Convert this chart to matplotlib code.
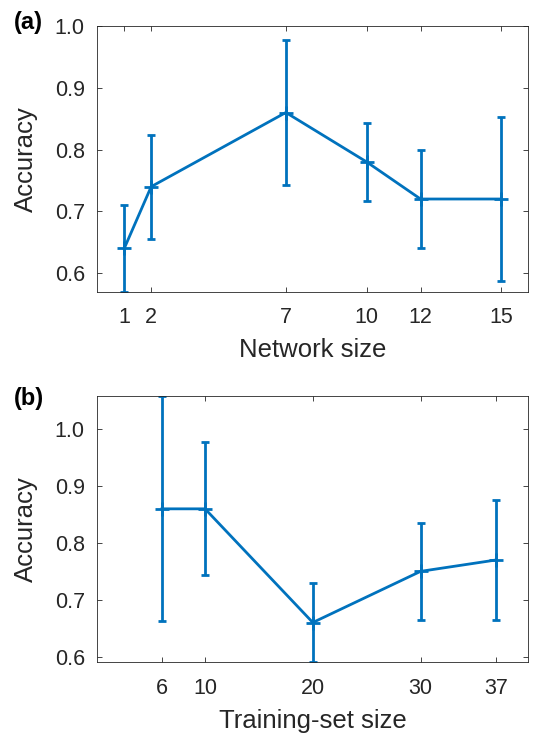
import matplotlib
matplotlib.use("Agg")
import matplotlib.pyplot as plt

plt.rcParams['font.family'] = ['Liberation Sans', 'DejaVu Sans']

# Panel (a)
net_size = [1, 2, 7, 10, 12, 15]
net_acc = [0.64, 0.74, 0.86, 0.78, 0.72, 0.72]
net_err = [0.07, 0.084, 0.117, 0.063, 0.079, 0.132]
net_ticks = [1, 2, 7, 10, 12, 15]
net_yticks = [0.6, 0.7, 0.8, 0.9, 1.0]

# Panel (b)
train_size = [6, 10, 20, 30, 37]
train_acc = [0.86, 0.86, 0.66, 0.75, 0.77]
train_err = [0.198, 0.117, 0.07, 0.085, 0.106]
train_ticks = [6, 10, 20, 30, 37]
train_yticks = [0.6, 0.7, 0.8, 0.9, 1.0]

BLUE = '#0072BD'
TXT = '#262626'

fig = plt.figure(figsize=(5.36, 7.36), dpi=100)
W, H = 536, 736
left = 97.3 / W
width = (528.3 - 97.3) / W
ax1 = fig.add_axes([left, 1 - 291.7 / H, width, (291.7 - 26) / H])
ax2 = fig.add_axes([left, 1 - 662.3 / H, width, (662.3 - 396.3) / H])


def style(ax, xticks, yticks, xlim, ylim, xlabel):
    ax.set_xlim(*xlim)
    ax.set_ylim(*ylim)
    ax.set_xticks(xticks)
    ax.set_xticklabels([str(t) for t in xticks])
    ax.set_yticks(yticks)
    ax.set_yticklabels([f"{t:.1f}" for t in yticks])
    ax.tick_params(direction='in', length=3.5, width=0.6, color=TXT,
                   labelcolor=TXT, labelsize=15.5, top=True, right=True)
    ax.tick_params(axis='x', pad=11)
    ax.tick_params(axis='y', pad=9)
    for s in ax.spines.values():
        s.set_color(TXT)
        s.set_linewidth(0.6)
    ax.set_xlabel(xlabel, fontsize=18.5, color=TXT, va='center')
    ax.set_ylabel('Accuracy', fontsize=18.5, color=TXT, va='center')
    ax.xaxis.set_label_coords(0.5, -0.219)
    ax.yaxis.set_label_coords(-0.165, 0.5)


ax1.errorbar(net_size, net_acc, yerr=net_err, color=BLUE, lw=2.0,
             elinewidth=2.0, capsize=3.2, capthick=2.0, marker='+',
             markersize=10.5, markeredgewidth=2.0, clip_on=True)
style(ax1, net_ticks, net_yticks, (0, 16), (0.57, 1.0), 'Network size')

ax2.errorbar(train_size, train_acc, yerr=train_err, color=BLUE, lw=2.0,
             elinewidth=2.0, capsize=3.2, capthick=2.0, marker='+',
             markersize=10.5, markeredgewidth=2.0, clip_on=True)
style(ax2, train_ticks, train_yticks, (0, 40), (0.59, 1.058), 'Training-set size')

fig.text(14 / W, 1 - 23 / H, '(a)', fontsize=17, fontweight='bold',
         ha='left', va='center', color='black')
fig.text(14 / W, 1 - 398 / H, '(b)', fontsize=17, fontweight='bold',
         ha='left', va='center', color='black')

fig.savefig('out.png', dpi=100)
